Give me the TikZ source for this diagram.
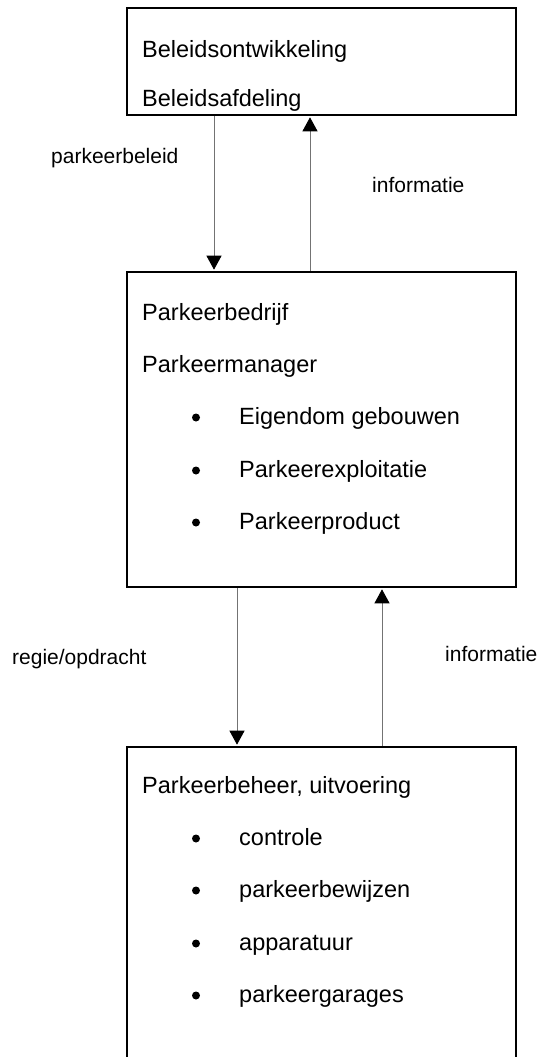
\documentclass[tikz,border=0pt]{standalone}
\usepackage{fontspec}
\setmainfont{Liberation Sans}
\usetikzlibrary{arrows.meta}
\begin{document}
\begin{tikzpicture}[x=1pt,y=-1pt,
  boxstyle/.style={draw=black, line width=2.6pt, rectangle, inner sep=0pt},
  boxtext/.style={anchor=base west, inner sep=0pt, font=\fontsize{23.5}{28}\selectfont},
  bulletdot/.style={circle, fill=black, inner sep=0pt, minimum size=8pt},
  lbl/.style={anchor=base west, inner sep=0pt, font=\fontsize{21}{25}\selectfont},
  arr/.style={draw=black!55, line width=1pt, -{Triangle[length=14pt,width=15pt,fill=black,color=black]}, shorten >=1pt}
]
\useasboundingbox (0,0) rectangle (540,1057);
\fill[white] (0,0) rectangle (540,1057);

% boxes
\node[boxstyle, minimum width=389pt, minimum height=107pt] (b1) at (321.5,61.5) {};
\node[boxstyle, minimum width=389pt, minimum height=315pt] (b2) at (321.5,429.5) {};
\node[boxstyle, minimum width=389pt, minimum height=314pt] (b3) at (321.5,904) {};

% box 1 text
\node[boxtext] (t11) at (142,57) {Beleidsontwikkeling};
\node[boxtext] (t12) at (142,106) {Beleidsafdeling};

% box 2 text
\node[boxtext] (t21) at (142,320) {Parkeerbedrijf};
\node[boxtext] (t22) at (142,372) {Parkeermanager};
\node[bulletdot] (d23) at (196,417.5) {};
\node[boxtext] (t23) at (239,424) {Eigendom gebouwen};
\node[bulletdot] (d24) at (196,470.5) {};
\node[boxtext] (t24) at (239,477) {Parkeerexploitatie};
\node[bulletdot] (d25) at (196,522.5) {};
\node[boxtext] (t25) at (239,529) {Parkeerproduct};

% box 3 text
\node[boxtext] (t31) at (142,793) {Parkeerbeheer, uitvoering};
\node[bulletdot] (d32) at (196,838.5) {};
\node[boxtext] (t32) at (239,845) {controle};
\node[bulletdot] (d33) at (196,890.5) {};
\node[boxtext] (t33) at (239,897) {parkeerbewijzen};
\node[bulletdot] (d34) at (196,943.5) {};
\node[boxtext] (t34) at (239,950) {apparatuur};
\node[bulletdot] (d35) at (196,995.5) {};
\node[boxtext] (t35) at (239,1002) {parkeergarages};

% arrow positions
\coordinate (a1) at (214,0);
\coordinate (a2) at (310,0);
\coordinate (a3) at (237,0);
\coordinate (a4) at (382,0);

% connectors
\draw[arr] (b1.south -| a1) -- (b2.north -| a1);
\draw[arr] (b2.north -| a2) -- (b1.south -| a2);
\draw[arr] (b2.south -| a3) -- (b3.north -| a3);
\draw[arr] (b3.north -| a4) -- (b2.south -| a4);

% labels
\node[lbl] (l1) at (51,163) {parkeerbeleid};
\node[lbl] (l2) at (372,192) {informatie};
\node[lbl] (l3) at (12,664) {regie/opdracht};
\node[lbl] (l4) at (445,661) {informatie};
\end{tikzpicture}
\end{document}
